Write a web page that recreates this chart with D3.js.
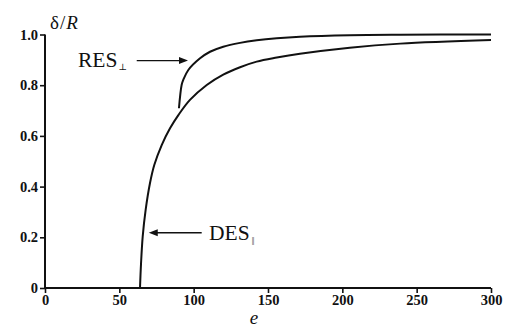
<!DOCTYPE html>
<html>
<head>
<meta charset="utf-8">
<script src="https://cdn.jsdelivr.net/npm/d3@7"></script>
<style>
  html, body { margin: 0; padding: 0; background: #fff; }
  svg { display: block; }
  text { font-family: "Liberation Serif", "Times New Roman", "DejaVu Serif", serif; fill: #111; }
</style>
</head>
<body>
<svg id="chart" width="505" height="329"></svg>
<script>
// values
const xTicks = [0, 50, 100, 150, 200, 250, 300];
const yTicks = [0, 0.2, 0.4, 0.6, 0.8, 1.0];
const yTickLabels = ['0', '0.2', '0.4', '0.6', '0.8', '1.0'];

// DES (parallel) branch
const desE = [63.9, 64.6, 65.7, 67.7, 70.6, 73.5, 78.5, 84.1, 89.7, 97.5, 108.8, 119.9, 131.2, 142.4, 155.9, 171.5, 205, 239, 300];
const desD = [0, 0.097, 0.202, 0.308, 0.413, 0.485, 0.564, 0.63, 0.682, 0.742, 0.801, 0.842, 0.871, 0.893, 0.909, 0.924, 0.948, 0.964, 0.978];
// RES (perpendicular) branch
const resE = [90.1, 91.9, 93, 96.4, 104.3, 111, 119.9, 131.2, 142.4, 155.9, 171.5, 205, 239, 300];
const resD = [0.709, 0.801, 0.821, 0.86, 0.906, 0.932, 0.952, 0.967, 0.977, 0.985, 0.991, 0.997, 0.999, 1.0];

// arrow annotations: [fromE, toE, atD]
const resArrow = [61.7, 96.2, 0.897];
const desArrow = [105.4, 69.8, 0.218];

const serif = '"Liberation Serif", "Times New Roman", "DejaVu Serif", serif';
const svg = d3.select('#chart');
const x = d3.scaleLinear().domain([0, 300]).range([45, 491]);
const y = d3.scaleLinear().domain([0, 1]).range([288, 34.5]);

// axes
const gx = svg.append('g').attr('transform', 'translate(0,' + y(0) + ')')
  .call(d3.axisBottom(x).tickValues(xTicks).tickSize(5).tickPadding(2).tickFormat(d3.format('d')));
const gy = svg.append('g').attr('transform', 'translate(' + x(0) + ',0)')
  .call(d3.axisLeft(y).tickValues(yTicks).tickSize(5).tickPadding(2)
    .tickFormat(function (d, i) { return yTickLabels[i]; }));
[gx, gy].forEach(function (g) {
  g.attr('font-family', serif);
  g.select('.domain').attr('stroke', '#111').attr('stroke-width', 2);
  g.selectAll('.tick line').attr('stroke', '#111').attr('stroke-width', 1.6);
  g.selectAll('.tick text').style('font-family', serif)
    .attr('font-size', 14.5).attr('font-weight', 'bold').attr('fill', '#111');
});
gx.select('.domain').attr('d', 'M' + x(0) + ',0H' + x(300));
gy.select('.domain').attr('d', 'M0,' + y(0) + 'V' + y(1));

// curves
const line = d3.line().x(function (d) { return x(d[0]); }).y(function (d) { return y(d[1]); })
  .curve(d3.curveCatmullRom.alpha(0.5));
svg.append('path').datum(d3.zip(desE, desD)).attr('d', line)
  .attr('fill', 'none').attr('stroke', '#111').attr('stroke-width', 2);
svg.append('path').datum(d3.zip(resE, resD)).attr('d', line)
  .attr('fill', 'none').attr('stroke', '#111').attr('stroke-width', 2);

// arrows
function arrow(a) {
  const x0 = x(a[0]), x1 = x(a[1]), yy = y(a[2]);
  const dir = x1 > x0 ? 1 : -1;
  svg.append('line').attr('x1', x0).attr('y1', yy).attr('x2', x1 - dir * 6).attr('y2', yy)
    .attr('stroke', '#111').attr('stroke-width', 1.3);
  svg.append('path')
    .attr('d', 'M' + x1 + ',' + yy + 'L' + (x1 - dir * 9) + ',' + (yy - 3.5) + 'L' + (x1 - dir * 9) + ',' + (yy + 3.5) + 'Z')
    .attr('fill', '#111');
}
arrow(resArrow);
arrow(desArrow);

// labels
const res = svg.append('text').attr('x', 78).attr('y', 66.5).attr('font-size', 21.5).style('font-family', serif);
res.append('tspan').text('RES');
res.append('tspan').attr('font-size', 9).attr('dy', 3).attr('dx', 1).text('⊥');

const des = svg.append('text').attr('x', 209).attr('y', 239.5).attr('font-size', 21.5).style('font-family', serif);
des.append('tspan').text('DES');
des.append('tspan').attr('font-size', 8).attr('dy', 3).attr('dx', 2).attr('letter-spacing', -0.5).text('||');

const yl = svg.append('text').attr('x', 50).attr('y', 28.5).attr('font-size', 19)
  .attr('letter-spacing', 1).style('font-family', serif);
yl.append('tspan').text('δ/');
yl.append('tspan').attr('font-style', 'italic').text('R');

svg.append('text').attr('x', 254).attr('y', 324).attr('text-anchor', 'middle').style('font-family', serif)
  .attr('font-size', 19).attr('font-style', 'italic').text('e');
</script>
</body>
</html>
